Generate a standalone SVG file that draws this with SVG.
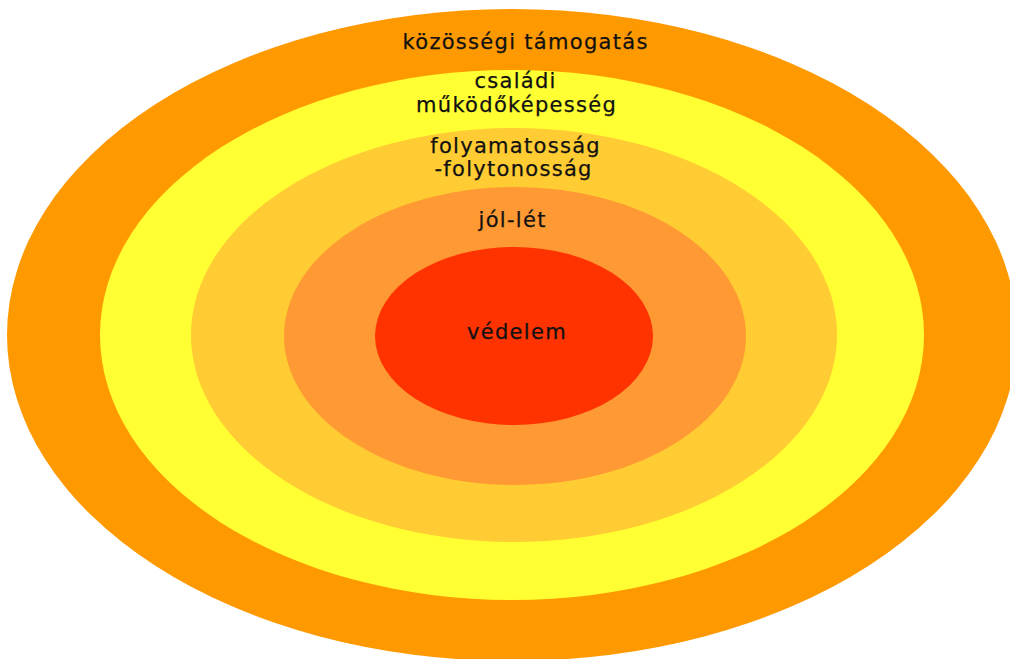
<svg xmlns="http://www.w3.org/2000/svg" width="1010" height="659" viewBox="0 0 1010 659">
<style>
text{font-family:"DejaVu Sans",Verdana,sans-serif;font-size:21px;letter-spacing:1.3px;fill:#111111;stroke:#111111;stroke-width:0.25px;text-anchor:middle}
</style>
<rect width="1010" height="659" fill="#ffffff"/>
<g id="kozossegi">
<ellipse cx="512" cy="335" rx="505" ry="326" fill="#FF9900"/>
<text x="525.6" y="49">közösségi támogatás</text>
</g>
<g id="csaladi">
<ellipse cx="512" cy="335" rx="412" ry="265" fill="#FFFF33"/>
<text x="515.6" y="88">családi</text>
<text x="516.6" y="112">működőképesség</text>
</g>
<g id="folyamatossag">
<ellipse cx="514" cy="335" rx="323" ry="207" fill="#FFCC33"/>
<text x="515.6" y="153">folyamatosság</text>
<text x="513.6" y="176">-folytonosság</text>
</g>
<g id="jollet">
<ellipse cx="515" cy="336" rx="231" ry="149" fill="#FF9933"/>
<text x="512.6" y="227">jól-lét</text>
</g>
<g id="vedelem">
<ellipse cx="514" cy="336" rx="139" ry="89" fill="#FF3300"/>
<text x="517" y="339">védelem</text>
</g>
<g id="connectors"/>
</svg>
